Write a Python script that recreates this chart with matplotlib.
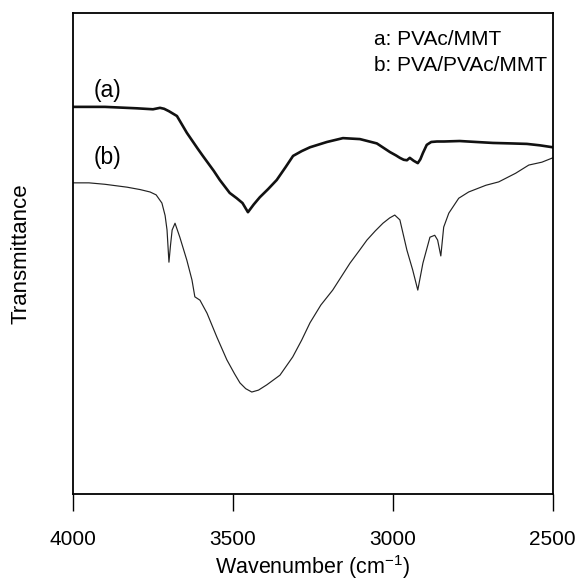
import matplotlib
matplotlib.use('Agg')
import matplotlib.pyplot as plt

plt.rcParams['font.family'] = ['Liberation Sans', 'DejaVu Sans']

# curve (a): PVAc/MMT
wn_a = [4000, 3900, 3800, 3750, 3728, 3715, 3700, 3675, 3644, 3610, 3594, 3560,
        3541, 3510, 3488, 3470, 3453, 3435, 3416, 3390, 3363, 3335, 3312, 3285,
        3259, 3206, 3156, 3103, 3050, 3009, 2990, 2978, 2966, 2956, 2947, 2935,
        2922, 2914, 2906, 2894, 2880, 2862, 2840, 2791, 2740, 2687, 2630, 2581,
        2540, 2500]
t_a = [80.5, 80.5, 80.2, 80.0, 80.3, 80.1, 79.6, 78.6, 75.1, 71.8, 70.3, 67.2,
       65.3, 62.6, 61.5, 60.5, 58.6, 60.2, 61.7, 63.4, 65.3, 68.0, 70.3, 71.3,
       72.1, 73.2, 74.0, 73.8, 72.9, 71.1, 70.4, 69.9, 69.5, 69.4, 69.9, 69.3,
       68.8, 69.6, 70.9, 72.6, 73.2, 73.3, 73.3, 73.4, 73.2, 73.0, 72.9, 72.8,
       72.5, 72.1]

# curve (b): PVA/PVAc/MMT
wn_b = [4000, 3950, 3900, 3831, 3790, 3759, 3740, 3722, 3712, 3706, 3700, 3695,
        3690, 3681, 3666, 3644, 3628, 3619, 3603, 3581, 3550, 3519, 3495, 3478,
        3460, 3441, 3420, 3394, 3353, 3313, 3285, 3259, 3225, 3188, 3160, 3134,
        3105, 3081, 3055, 3031, 3010, 2994, 2978, 2956, 2938, 2922, 2906, 2884,
        2869, 2860, 2850, 2841, 2825, 2794, 2763, 2709, 2669, 2616, 2575, 2534,
        2500]
t_b = [64.7, 64.7, 64.4, 63.8, 63.3, 62.8, 62.2, 60.5, 57.9, 54.9, 48.2, 51.8,
       54.9, 56.3, 53.4, 48.6, 44.5, 41.0, 40.3, 37.6, 32.6, 27.9, 25.0, 23.1,
       21.9, 21.2, 21.6, 22.7, 24.7, 28.5, 32.0, 35.6, 39.3, 42.4, 45.3, 48.0,
       50.6, 52.8, 54.7, 56.3, 57.4, 58.0, 57.0, 50.7, 46.6, 42.4, 48.0, 53.4,
       53.8, 52.8, 49.5, 55.5, 58.4, 61.5, 62.8, 64.2, 64.9, 66.7, 68.4, 69.0,
       69.9]

xticks = [4000, 3500, 3000, 2500]

fig = plt.figure(figsize=(5.77, 5.85), dpi=100)
ax = fig.add_axes([0.1265, 0.1556, 0.8315, 0.822])

ax.plot(wn_a, t_a, color='#111111', lw=1.9)
ax.plot(wn_b, t_b, color='#222222', lw=0.85)

ax.set_xlim(4000, 2500)
ax.set_ylim(0, 100)
ax.set_xticks(xticks)
ax.set_xticklabels([str(v) for v in xticks])
ax.set_yticks([])
ax.tick_params(axis='x', direction='out', length=12, width=1, labelsize=15, pad=14)
for s in ax.spines.values():
    s.set_linewidth(1.3)

ax.text(3937, 84.0, '(a)', fontsize=16.5, va='center', ha='left')
ax.text(3937, 70.0, '(b)', fontsize=16.5, va='center', ha='left')
ax.text(3060, 94.6, 'a: PVAc/MMT', fontsize=15, va='center', ha='left')
ax.text(3060, 89.0, 'b: PVA/PVAc/MMT', fontsize=15, va='center', ha='left')

ax.set_xlabel('Wavenumber (cm$^{\\mathregular{-1}}$)', fontsize=15.5, labelpad=3)
ax.set_ylabel('Transmittance', fontsize=16, labelpad=30)

fig.savefig('out.png', dpi=100)
